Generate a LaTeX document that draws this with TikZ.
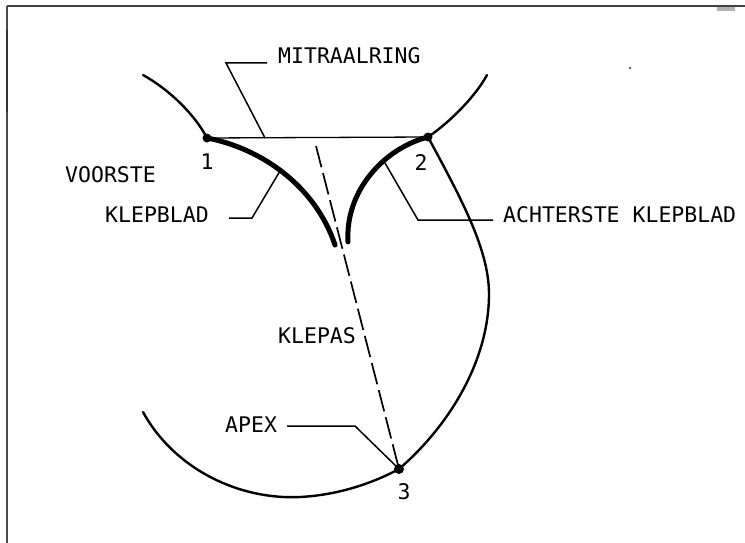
\documentclass[tikz,border=0pt]{standalone}
\usepackage{fontspec}
\setmonofont{DejaVu Sans Mono}
\begin{document}
\begin{tikzpicture}[x=1pt,y=-1pt,
  wall/.style={line width=2.4pt,line cap=round},
  leaflet/.style={line width=5pt,line cap=round},
  ring/.style={line width=1.3pt},
  leader/.style={line width=1.5pt},
  axisline/.style={line width=1.7pt,dash pattern=on 22pt off 6pt},
  lbl/.style={font=\ttfamily\fontsize{21.5}{22}\selectfont,inner sep=0pt},
  pt/.style={circle,fill=black,inner sep=0pt,minimum size=9pt}]
\useasboundingbox (0,0) rectangle (745,543);
% frame edges
\draw[line width=2pt,black!75] (7,6) -- (745,6);
\draw[line width=1.5pt,black!70] (7,6) -- (7,543);
\draw[line width=2.5pt,black!80] (7,30) -- (7,112);
\fill[black!30] (717,7) rectangle (735,11);
\fill[black!60] (630,68) circle (1.3);

% landmarks
\node[pt] (p1) at (207,138) {};
\node[pt] (p2) at (428,137) {};
\node[pt,minimum size=10pt] (p3) at (399,469) {};
\coordinate (ax) at (316,146);

% heart outline
\draw[wall] (143,75) .. controls (170,90) and (195,115) .. (p1.center);
\draw[wall] (487,75) .. controls (475,97) and (450,122) .. (p2.center);
\draw[wall] (p2.center) .. controls (462,200) and (489,250) .. (489,294)
  .. controls (489,360) and (450,425) .. (p3.center);
\draw[wall] (143,412) .. controls (175,470) and (240,500) .. (300,497)
  .. controls (340,495) and (375,482) .. (p3.center);

% annulus and leaflets
\draw[ring] (p1.center) -- (p2.center);
\draw[leaflet] (p1.center) .. controls (260,148) and (315,185) .. (335,245);
\draw[leaflet] (348,242) .. controls (345,190) and (385,148) .. (p2.center);

% valve axis
\draw[axisline] (ax) -- (p3.center);

% labels
\node[lbl,anchor=west] (mit) at (278,55.5) {MITRAALRING};
\node[lbl,anchor=west] (vo) at (65,175) {VOORSTE};
\node[lbl,anchor=west] (vkb) at (105,215) {KLEPBLAD};
\node[lbl,anchor=west] (akb) at (503,215) {ACHTERSTE KLEPBLAD};
\node[lbl,anchor=west] (kas) at (278,336) {KLEPAS};
\node[lbl,anchor=west] (apx) at (225,425) {APEX};
\node[lbl] (n1) at (207,162) {1};
\node[lbl] (n2) at (421,163) {2};
\node[lbl] (n3) at (404,492) {3};

% leader lines
\coordinate (mitA) at (267,63);
\coordinate (mitB) at (226,63);
\coordinate (mitC) at (265,138);
\draw[leader] (mitA) -- (mitB) -- (mitC);
\coordinate (vkA) at (229,218);
\coordinate (vkB) at (252,218);
\coordinate (vkC) at (280,171);
\draw[leader] (vkA) -- (vkB) -- (vkC);
\coordinate (akA) at (493,220);
\coordinate (akB) at (418,220);
\coordinate (akC) at (385,163);
\draw[leader] (akA) -- (akB) -- (akC);
\coordinate (apA) at (287,426);
\coordinate (apB) at (355,426);
\draw[leader] (apA) -- (apB) -- (p3.center);
\end{tikzpicture}
\end{document}
